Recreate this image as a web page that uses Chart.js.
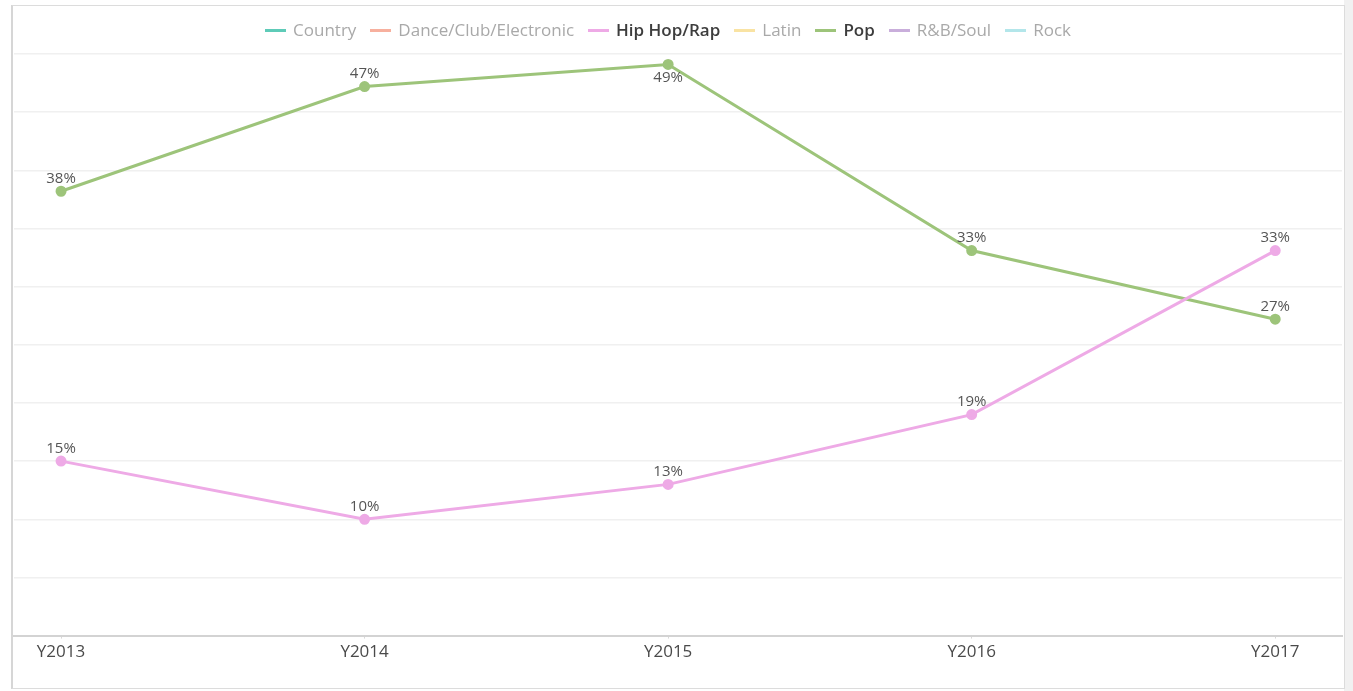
<!DOCTYPE html>
<html>
<head>
<meta charset="utf-8">
<script src="https://cdn.jsdelivr.net/npm/chart.js@4.4.1/dist/chart.umd.min.js"></script>
<style>
    html, body { margin: 0; padding: 0; background: #ffffff; }
    body { width: 1353px; height: 691px; position: relative; overflow: hidden; font-family: 'Open Sans', sans-serif; }
    #sideStrip { position: absolute; left: 1344px; top: 0; width: 9px; height: 691px; background: #f1f1f1; }
    #card { position: absolute; left: 11px; top: 5px; width: 1331px; height: 682px; border: 1px solid #dcdcdc; border-left: 2px solid #d6d6d6; }
    #chartWrap { position: absolute; left: 0; top: 0; width: 1353px; height: 691px; }
    #legend { position: absolute; left: 0; top: 18px; width: 1336px; display: flex; justify-content: center; align-items: center; font-size: 17px; line-height: 24px; }
    #legend .item { display: flex; align-items: center; margin: 0 7px; white-space: nowrap; }
    #legend .mark { display: inline-block; width: 21px; height: 3px; margin-right: 7px; }
    #legend .off { color: #a9a9a9; }
    #legend .on { color: #3d3d3d; font-weight: 600; }
</style>
</head>
<body>
<div id="sideStrip"></div>
<div id="card"></div>
<div id="chartWrap"><canvas id="genreChart"></canvas></div>
<div id="legend"></div>
<script>
// Kategoriler (yıllar)
const years = ['Y2013', 'Y2014', 'Y2015', 'Y2016', 'Y2017'];

// Türler ve renkleri
const genres = ['Country', 'Dance/Club/Electronic', 'Hip Hop/Rap', 'Latin', 'Pop', 'R&B/Soul', 'Rock'];
const genreColors = ['#5ecbb8', '#f7b09e', '#eeaae6', '#f9e3a3', '#9dc47a', '#c9aedb', '#b3e6ea'];

// Görünen seriler (yüzde)
const hipHopValues = [15.0, 10.0, 13.0, 19.0, 33.1];
const popValues = [38.2, 47.2, 49.1, 33.1, 27.2];

// Y ekseni ölçeği
const yMin = 0;
const yMax = 50;
const yStep = 5;

const seriesByGenre = {
    'Hip Hop/Rap': hipHopValues,
    'Pop': popValues
};

const FONT = "'Open Sans', sans-serif";

// Nokta üstü yüzde etiketleri
const pointLabelPlugin = {
    id: 'pointLabels',
    afterDatasetsDraw(chart) {
        const ctx = chart.ctx;
        const area = chart.chartArea;
        ctx.save();
        ctx.font = '15px ' + FONT;
        ctx.fillStyle = '#555555';
        ctx.textAlign = 'center';
        chart.data.datasets.forEach((ds, i) => {
            if (!ds.data.length) return;
            const meta = chart.getDatasetMeta(i);
            meta.data.forEach((pt, j) => {
                const txt = Math.round(ds.data[j].y) + '%';
                if (pt.y - 26 < area.top) {
                    ctx.textBaseline = 'top';
                    ctx.fillText(txt, pt.x, pt.y + 6);
                } else {
                    ctx.textBaseline = 'bottom';
                    ctx.fillText(txt, pt.x, pt.y - 5);
                }
            });
        });
        ctx.restore();
    }
};

const datasets = genres.map((g, i) => {
    const vals = seriesByGenre[g] || [];
    return {
        label: g,
        data: vals.map((v, j) => ({ x: j, y: v })),
        borderColor: genreColors[i],
        backgroundColor: genreColors[i],
        borderWidth: 3,
        pointRadius: 4,
        pointHoverRadius: 5,
        tension: 0
    };
});

const chart = new Chart(document.getElementById('genreChart').getContext('2d'), {
    type: 'line',
    data: { datasets: datasets },
    options: {
        responsive: true,
        maintainAspectRatio: false,
        animation: false,
        layout: { padding: { left: 14, right: 11, top: 54, bottom: 26 } },
        plugins: {
            legend: { display: false },
            tooltip: { enabled: false }
        },
        scales: {
            x: {
                type: 'linear',
                min: -0.155,
                max: 4.22,
                afterBuildTicks(axis) {
                    axis.ticks = years.map((_, i) => ({ value: i }));
                },
                grid: { drawOnChartArea: false, drawTicks: true, tickLength: 3, color: '#d8d8d8' },
                border: { display: true, color: '#d3d3d3', width: 2 },
                ticks: {
                    padding: 3,
                    color: '#4a4a4a',
                    font: { family: FONT, size: 17 },
                    maxRotation: 0,
                    callback: (v) => years[v]
                }
            },
            y: {
                min: yMin,
                max: yMax,
                ticks: { display: false, stepSize: yStep },
                grid: { color: '#f0f0f0', drawTicks: false, lineWidth: 1.5 },
                border: { display: false }
            }
        }
    },
    plugins: [pointLabelPlugin]
});

// HTML lejant: veri olan seriler koyu/kalın, diğerleri soluk
const legendBox = document.getElementById('legend');
chart.data.datasets.forEach((ds) => {
    const item = document.createElement('span');
    item.className = 'item';
    const mark = document.createElement('span');
    mark.className = 'mark';
    mark.style.background = ds.borderColor;
    const text = document.createElement('span');
    text.className = ds.data.length ? 'on' : 'off';
    text.textContent = ds.label;
    item.appendChild(mark);
    item.appendChild(text);
    legendBox.appendChild(item);
});
</script>
</body>
</html>
